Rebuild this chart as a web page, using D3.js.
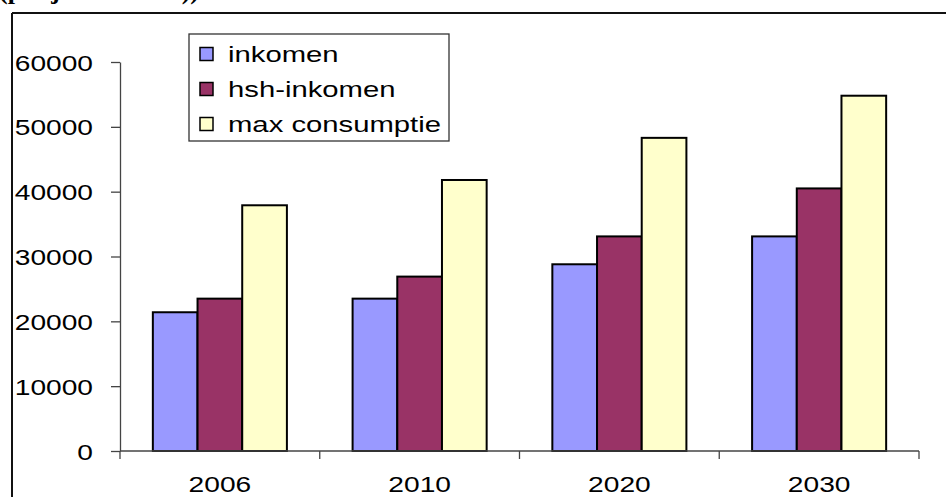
<!DOCTYPE html>
<html>
<head>
<meta charset="utf-8">
<script src="https://cdn.jsdelivr.net/npm/d3@7"></script>
<style>
  html, body { margin: 0; padding: 0; background: #fff; }
  svg { display: block; }
</style>
</head>
<body>
<svg id="chart" width="946" height="497"></svg>
<script>
// Income versus maximum consumption per year
const years = ["2006", "2010", "2020", "2030"];
const seriesNames = ["inkomen", "hsh-inkomen", "max consumptie"];
const inkomen = [21400, 23500, 28800, 33100];
const hshInkomen = [23500, 26900, 33100, 40500];
const maxConsumptie = [37900, 41800, 48300, 54800];
const yTicks = [0, 10000, 20000, 30000, 40000, 50000, 60000];
const colors = ["#9999FF", "#993366", "#FFFFCC"];

const seriesValues = [inkomen, hshInkomen, maxConsumptie];
const stretch = 1.28; // horizontal text stretch

const svg = d3.select("#chart");

// Outer frame (partly outside the visible area)
svg.append("line").attr("x1", 12).attr("y1", 13).attr("x2", 960).attr("y2", 13)
  .attr("stroke", "#111").attr("stroke-width", 2);
svg.append("line").attr("x1", 12).attr("y1", 13).attr("x2", 12).attr("y2", 510)
  .attr("stroke", "#111").attr("stroke-width", 2);

// Title line above the frame (only its lowest strokes fall inside the page)
svg.append("text")
  .attr("x", -1).attr("y", -1)
  .attr("font-family", "Liberation Serif, Times New Roman, serif")
  .attr("font-weight", "bold")
  .attr("font-size", 26)
  .attr("fill", "#000")
  .text("(per jaar in euro))");

const y = d3.scaleLinear().domain([0, 60000]).range([451, 62]);
const xCat = d3.scaleBand().domain(years).range([120, 919]).padding(0);
const xSer = d3.scaleBand().domain(seriesNames).range([0, xCat.bandwidth()])
  .paddingInner(0).paddingOuter(0.735);

// Bars
const groups = svg.append("g").selectAll("g")
  .data(years)
  .join("g")
  .attr("transform", d => `translate(${xCat(d)},0)`);

groups.selectAll("rect")
  .data((d, i) => seriesNames.map((s, k) => ({ s, k, v: seriesValues[k][i] })))
  .join("rect")
  .attr("x", d => xSer(d.s))
  .attr("width", xSer.bandwidth())
  .attr("y", d => y(d.v))
  .attr("height", d => y(0) - y(d.v))
  .attr("fill", d => colors[d.k])
  .attr("stroke", "#000")
  .attr("stroke-width", 2);

const axisColor = "#444";

// Y axis
const yAxis = svg.append("g")
  .attr("transform", "translate(120,0)")
  .call(d3.axisLeft(y).tickValues(yTicks).tickSize(9).tickSizeOuter(0).tickFormat(d3.format("d")));
yAxis.select(".domain").attr("stroke", axisColor).attr("stroke-width", 1.3);
yAxis.selectAll(".tick line").attr("stroke", axisColor).attr("stroke-width", 1.3);
yAxis.selectAll(".tick text")
  .attr("x", null).attr("dy", null)
  .attr("transform", `translate(-27,8) scale(${stretch},1)`)
  .attr("font-family", "Liberation Sans, Arial, sans-serif")
  .attr("font-size", 22)
  .attr("fill", "#000");

// X axis: ticks at category boundaries, labels centred
const xAxis = svg.append("g");
xAxis.append("line")
  .attr("x1", 120).attr("x2", 919).attr("y1", y(0)).attr("y2", y(0))
  .attr("stroke", axisColor).attr("stroke-width", 1.3);
const bounds = years.map(d => xCat(d)).concat([xCat.range()[1]]);
xAxis.selectAll("line.tick")
  .data(bounds)
  .join("line")
  .attr("class", "tick")
  .attr("x1", d => d).attr("x2", d => d)
  .attr("y1", y(0)).attr("y2", y(0) + 8)
  .attr("stroke", axisColor).attr("stroke-width", 1.3);
xAxis.selectAll("text")
  .data(years)
  .join("text")
  .attr("transform", d => `translate(${xCat(d) + xCat.bandwidth() / 2},492) scale(${stretch},1)`)
  .attr("text-anchor", "middle")
  .attr("font-family", "Liberation Sans, Arial, sans-serif")
  .attr("font-size", 22)
  .attr("fill", "#000")
  .text(d => d);

// Legend
const legend = svg.append("g");
legend.append("rect")
  .attr("x", 189).attr("y", 34).attr("width", 260).attr("height", 107)
  .attr("fill", "#fff").attr("stroke", "#333").attr("stroke-width", 1.3);
const rowY = [54, 89, 124];
const items = legend.selectAll("g.item")
  .data(seriesNames)
  .join("g")
  .attr("class", "item");
items.append("rect")
  .attr("x", 200).attr("y", (d, i) => rowY[i] - 6.5)
  .attr("width", 13).attr("height", 13)
  .attr("fill", (d, i) => colors[i])
  .attr("stroke", "#000").attr("stroke-width", 1.5);
items.append("text")
  .attr("transform", (d, i) => `translate(228,${rowY[i] + 8}) scale(1.33,1)`)
  .attr("font-family", "Liberation Sans, Arial, sans-serif")
  .attr("font-size", 22)
  .attr("fill", "#000")
  .text(d => d);
</script>
</body>
</html>
